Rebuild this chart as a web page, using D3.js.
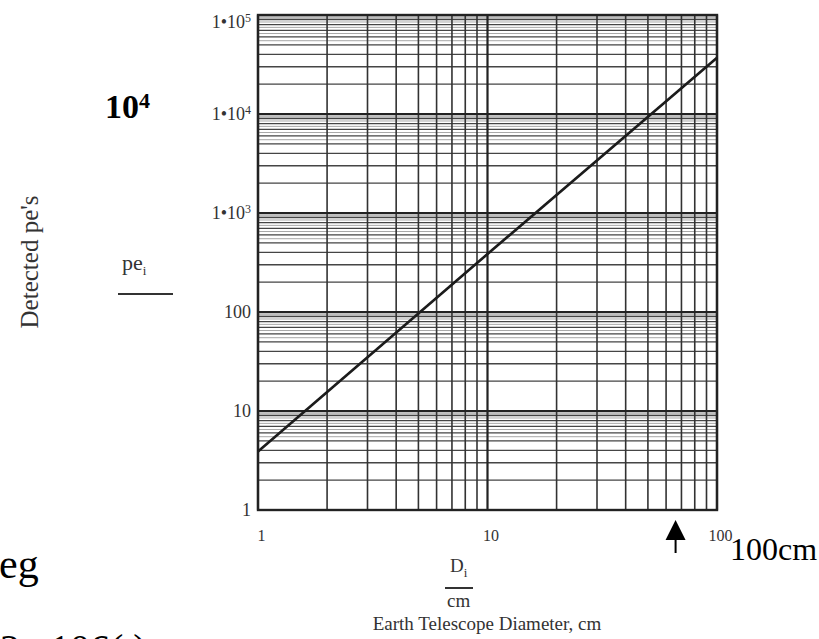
<html>
<head>
<script src="https://cdn.jsdelivr.net/npm/d3@7/dist/d3.min.js"></script>
<style>
  body { margin: 0; background: #fff; }
  svg { font-family: "Liberation Serif", "Times New Roman", serif; }
  .axis path { display: none; }
</style>
</head>
<body>
<div id="chart"></div>
<script>
// line (pe's vs telescope diameter)
var diameters = [1, 10, 100];
var detected = [3.9, 385, 37000];

var xTicks = [1, 10, 100];
var xTickLabels = ["1", "10", "100"];
var yTicks = [1, 10, 100, 1e3, 1e4, 1e5];
var yTickBase = ["1", "10", "100", "1\u202210", "1\u202210", "1\u202210"];
var yTickExp = ["", "", "", "3", "4", "5"];

var minorSteps = [2, 3, 4, 5, 6, 7, 8, 9];
var faintSteps = [5.5, 6.5, 7.5, 8.5, 9.25, 9.5, 9.75];
var arrowAt = 66;

var width = 819;
var height = 639;
var plot = {left: 258, right: 717, top: 15, bottom: 510};

/* Scale */
var xScale = d3.scaleLog().domain([1, 100]).range([plot.left, plot.right]);
var yScale = d3.scaleLog().domain([1, 1e5]).range([plot.bottom, plot.top]);

var svg = d3.select("#chart").append("svg")
  .attr("width", width)
  .attr("height", height);

svg.append("defs").append("filter")
  .attr("id", "soft")
  .append("feGaussianBlur")
  .attr("stdDeviation", 0.45);

var chart = svg.append("g").attr("filter", "url(#soft)");

/* Grid */
var yDecades = yTicks.slice(0, -1);
var xDecades = xTicks.slice(0, -1);
var faintY = [], minorY = [], minorX = [];
yDecades.forEach(function(d) {
  faintSteps.forEach(function(k) { faintY.push(d * k); });
  minorSteps.forEach(function(k) { minorY.push(d * k); });
});
xDecades.forEach(function(d) {
  minorSteps.forEach(function(k) { minorX.push(d * k); });
});

chart.append("g").selectAll("line")
  .data(faintY).enter().append("line")
  .attr("x1", plot.left).attr("x2", plot.right)
  .attr("y1", d => yScale(d)).attr("y2", d => yScale(d))
  .attr("stroke", "#a8a8a8").attr("stroke-width", 1);

chart.append("g").selectAll("line")
  .data(minorY).enter().append("line")
  .attr("x1", plot.left).attr("x2", plot.right)
  .attr("y1", d => yScale(d)).attr("y2", d => yScale(d))
  .attr("stroke", "#444").attr("stroke-width", 1.3);

chart.append("g").selectAll("line")
  .data(minorX).enter().append("line")
  .attr("y1", plot.top).attr("y2", plot.bottom)
  .attr("x1", d => xScale(d)).attr("x2", d => xScale(d))
  .attr("stroke", "#333").attr("stroke-width", 1.6);

chart.append("g").selectAll("line")
  .data(yTicks).enter().append("line")
  .attr("x1", plot.left).attr("x2", plot.right)
  .attr("y1", d => yScale(d)).attr("y2", d => yScale(d))
  .attr("stroke", "#222").attr("stroke-width", 2.2);

chart.append("g").selectAll("line")
  .data(xTicks).enter().append("line")
  .attr("y1", plot.top).attr("y2", plot.bottom)
  .attr("x1", d => xScale(d)).attr("x2", d => xScale(d))
  .attr("stroke", "#222").attr("stroke-width", 2.2);

chart.append("rect")
  .attr("x", plot.left).attr("y", plot.top)
  .attr("width", plot.right - plot.left)
  .attr("height", plot.bottom - plot.top)
  .attr("fill", "none").attr("stroke", "#222").attr("stroke-width", 2.4);

/* Line */
var line = d3.line()
  .x((d, i) => xScale(diameters[i]))
  .y(d => yScale(d));

chart.append("path")
  .attr("d", line(detected))
  .attr("fill", "none")
  .attr("stroke", "#1a1a1a")
  .attr("stroke-width", 2.6);

/* Axes */
var yAxis = d3.axisLeft(yScale).tickValues(yTicks).tickSize(0).tickPadding(7)
  .tickFormat((d, i) => yTickBase[i]);
var yg = svg.append("g").attr("class", "axis")
  .attr("transform", `translate(${plot.left}, 0)`)
  .call(yAxis)
  .attr("font-family", "Liberation Serif, serif")
  .attr("font-size", 18);
yg.selectAll(".tick text").attr("fill", "#333").each(function(d, i) {
  if (!yTickExp[i]) return;
  d3.select(this).append("tspan")
    .attr("dy", "-0.5em")
    .attr("font-size", "12px")
    .text(yTickExp[i]);
});
yg.select(".tick:last-of-type text").attr("dy", "0.7em");

var xAxis = d3.axisBottom(xScale).tickValues(xTicks).tickSize(0).tickPadding(20)
  .tickFormat((d, i) => xTickLabels[i]);
svg.append("g").attr("class", "axis")
  .attr("transform", `translate(3, ${plot.bottom})`)
  .call(xAxis)
  .attr("font-family", "Liberation Serif, serif")
  .attr("font-size", 16)
  .selectAll(".tick text").attr("fill", "#333");

/* Labels */
var big = svg.append("text")
  .attr("x", 105).attr("y", 118)
  .attr("font-size", "34px").attr("font-weight", "bold").attr("fill", "#000");
big.append("tspan").text("10");
big.append("tspan").attr("dy", "-0.45em").attr("font-size", "22px").text("4");

svg.append("text")
  .attr("transform", "translate(38, 262) rotate(-90)")
  .attr("text-anchor", "middle")
  .attr("font-size", "25px").attr("fill", "#333")
  .text("Detected pe's");

var pe = svg.append("text")
  .attr("x", 122).attr("y", 270)
  .attr("font-size", "22px").attr("fill", "#333");
pe.append("tspan").text("pe");
pe.append("tspan").attr("dy", "0.35em").attr("font-size", "13px").text("i");
svg.append("line")
  .attr("x1", 118).attr("x2", 173).attr("y1", 294).attr("y2", 294)
  .attr("stroke", "#333").attr("stroke-width", 2);

var di = svg.append("text")
  .attr("x", 450).attr("y", 572)
  .attr("font-size", "19px").attr("fill", "#333");
di.append("tspan").text("D");
di.append("tspan").attr("dy", "0.35em").attr("font-size", "13px").text("i");
svg.append("line")
  .attr("x1", 445).attr("x2", 473).attr("y1", 588).attr("y2", 588)
  .attr("stroke", "#333").attr("stroke-width", 2);
svg.append("text")
  .attr("x", 447).attr("y", 607)
  .attr("font-size", "19px").attr("fill", "#333")
  .text("cm");

svg.append("text")
  .attr("x", 487).attr("y", 630)
  .attr("text-anchor", "middle")
  .attr("font-size", "19px").attr("fill", "#333")
  .text("Earth Telescope Diameter, cm");

/* Arrow at the 100cm mark */
var ax = xScale(arrowAt);
svg.append("path")
  .attr("d", `M${ax - 10},540 L${ax},520 L${ax + 10},540 Z`)
  .attr("fill", "#000");
svg.append("line")
  .attr("x1", ax).attr("x2", ax).attr("y1", 538).attr("y2", 553)
  .attr("stroke", "#000").attr("stroke-width", 2);

svg.append("text")
  .attr("x", 730).attr("y", 560)
  .attr("font-size", "32px").attr("fill", "#000")
  .text("100cm");

svg.append("text")
  .attr("x", -1).attr("y", 578)
  .attr("font-size", "42px").attr("fill", "#000")
  .text("eg");

svg.append("text")
  .attr("x", 0).attr("y", 662)
  .attr("font-size", "40px").attr("fill", "#000")
  .attr("xml:space", "preserve")
  .style("white-space", "pre")
  .text("2   106(.)");
</script>
</body>
</html>
